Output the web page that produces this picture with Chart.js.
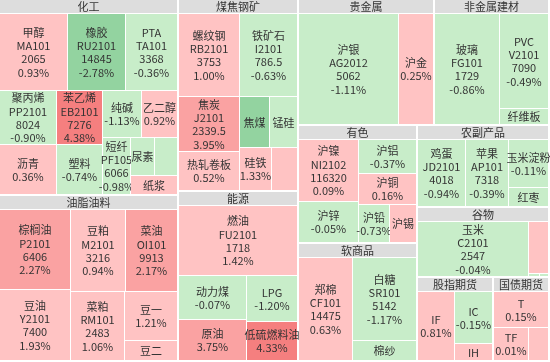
<!DOCTYPE html>
<html lang="zh">
<head>
<meta charset="utf-8">
<title>期货板块涨跌</title>
<script src="https://cdn.jsdelivr.net/npm/chart.js@4.4.1/dist/chart.umd.min.js"></script>
<style>
  html, body { margin: 0; padding: 0; background: #fff; }
  #wrap { width: 550px; height: 362px; }
</style>
</head>
<body>
<div id="wrap"><canvas id="heatmap"></canvas></div>
<script>
// sectors
const groups = ['化工', '煤焦钢矿', '能源', '油脂油料', '贵金属', '非金属建材', '有色', '软商品', '农副产品', '谷物', '股指期货', '国债期货'];

// contracts: sector index, name, code, last price, change %, size
const groupOf = [
  0, 0, 0, 0, 0, 0, 0, 0, 0, 0, 0, 0, 0,
  1, 1, 1, 1, 1, 1, 1, 1,
  2, 2, 2, 2, 2,
  3, 3, 3, 3, 3, 3, 3,
  4, 4,
  5, 5, 5,
  6, 6, 6, 6, 6, 6,
  7, 7, 7,
  8, 8, 8, 8,
  9, 9, 9, 9,
  10, 10, 10,
  11, 11, 11
];
const names = [
  '甲醇', '橡胶', 'PTA', '聚丙烯', '沥青', '苯乙烯', '塑料', '纯碱', '乙二醇', '短纤', '尿素', '20号胶', '纸浆',
  '螺纹钢', '铁矿石', '焦炭', '热轧卷板', '焦煤', '锰硅', '硅铁', '不锈钢',
  '燃油', '动力煤', '原油', 'LPG', '低硫燃料油',
  '棕榈油', '豆油', '豆粕', '菜油', '菜粕', '豆一', '豆二',
  '沪银', '沪金',
  '玻璃', 'PVC', '纤维板',
  '沪镍', '沪锌', '沪铝', '沪铜', '沪铅', '沪锡',
  '郑棉', '白糖', '棉纱',
  '鸡蛋', '苹果', '玉米淀粉', '红枣',
  '玉米', '粳米', '强麦', '早籼稻',
  'IF', 'IC', 'IH',
  'T', 'TF', 'TS'
];
const codes = [
  'MA101', 'RU2101', 'TA101', 'PP2101', null, 'EB2101', null, null, null, 'PF105', null, null, null,
  'RB2101', 'I2101', 'J2101', null, null, null, null, null,
  'FU2101', null, null, null, null,
  'P2101', 'Y2101', 'M2101', 'OI101', 'RM101', null, null,
  'AG2012', null,
  'FG101', 'V2101', null,
  'NI2102', null, null, null, null, null,
  'CF101', 'SR101', null,
  'JD2101', 'AP101', null, null,
  'C2101', null, null, null,
  null, null, null,
  null, null, null
];
const prices = [
  2065, 14845, 3368, 8024, null, 7276, null, null, null, 6066, null, null, null,
  3753, 786.5, 2339.5, null, null, null, null, null,
  1718, null, null, null, null,
  6406, 7400, 3216, 9913, 2483, null, null,
  5062, null,
  1729, 7090, null,
  116320, null, null, null, null, null,
  14475, 5142, null,
  4018, 7318, null, null,
  2547, null, null, null,
  null, null, null,
  null, null, null
];
const changes = [
  0.93, -2.78, -0.36, -0.90, 0.36, 4.38, -0.74, -1.13, 0.92, -0.98, -0.35, -1.05, 0.45,
  1.00, -0.63, 3.95, 0.52, -2.36, -0.58, 1.33, 0.38,
  1.42, -0.07, 3.75, -1.20, 4.33,
  2.27, 1.93, 0.94, 2.17, 1.06, 1.21, 0.70,
  -1.11, 0.25,
  -0.86, -0.49, -0.20,
  0.09, -0.05, -0.37, 0.16, -0.73, 0.40,
  0.63, -1.17, -0.85,
  -0.94, -0.39, -0.11, -0.30,
  -0.04, 0.20, -0.15, -0.10,
  0.81, -0.15, 0.50,
  0.15, 0.01, 0.02
];
const weights = [
  5673, 4874, 4412, 3317, 3074, 2701, 2503, 2026, 1832, 1778, 988, 966, 942,
  5540, 5265, 3683, 2621, 1689, 1546, 1535, 1221,
  9245, 3263, 3038, 2569, 2226,
  6325, 5544, 4940, 4746, 4107, 2894, 1158,
  12663, 4473,
  8253, 5346, 891,
  4272, 2848, 2295, 2100, 1400, 1185,
  6431, 6147, 1464,
  4000, 3548, 2390, 951,
  7804, 1347, 50, 39,
  3150, 2418, 778,
  2456, 1427, 793
];

const FONT = '11px "Noto Sans CJK SC", sans-serif';
const HEADER = 13;

function cellColor(p) {
  if (p >= 4) return '#f57f7f';
  if (p >= 2) return '#faa2a2';
  if (p >= 0) return '#ffc3c3';
  if (p <= -4) return '#5fbf75';
  if (p <= -2) return '#93d3a0';
  return '#c8edc9';
}

const fmtPct = p => p.toFixed(2) + '%';

function worst(row, side) {
  const s = row.reduce((t, d) => t + d.a, 0);
  const max = Math.max(...row.map(d => d.a));
  const min = Math.min(...row.map(d => d.a));
  return Math.max(side * side * max / (s * s), (s * s) / (side * side * min));
}

// squarified treemap in plain units
function squarify(items, x, y, w, h) {
  const list = items.filter(d => d.v > 0).sort((a, b) => b.v - a.v);
  const total = list.reduce((s, d) => s + d.v, 0);
  const k = (w * h) / total;
  let rest = list.map(d => ({ id: d.id, a: d.v * k }));
  const out = [];
  while (rest.length) {
    const side = Math.min(w, h);
    let n = 1, best = worst(rest.slice(0, 1), side);
    while (n < rest.length) {
      const next = worst(rest.slice(0, n + 1), side);
      if (next > best) break;
      best = next;
      n++;
    }
    const row = rest.slice(0, n);
    const sum = row.reduce((s, d) => s + d.a, 0);
    if (w >= h) {
      const cw = sum / h;
      let cy = y;
      row.forEach(d => { const ch = d.a / cw; out.push({ id: d.id, x, y: cy, w: cw, h: ch }); cy += ch; });
      x += cw; w -= cw;
    } else {
      const rh = sum / w;
      let cx = x;
      row.forEach(d => { const cw = d.a / rh; out.push({ id: d.id, x: cx, y, w: cw, h: rh }); cx += cw; });
      y += rh; h -= rh;
    }
    rest = rest.slice(n);
  }
  return out;
}

function labelLines(ctx, k, w, h) {
  if (h >= 53 && codes[k] && w >= 26) return [names[k], codes[k], String(prices[k]), fmtPct(changes[k])];
  if (h >= 27 && w >= 29.5) return [names[k], fmtPct(changes[k])];
  if (h >= 13 && w >= 21 && ctx.measureText(names[k]).width <= w + 1) return [names[k]];
  return [];
}

const treemapPlugin = {
  id: 'treemap',
  beforeDatasetsDraw(chart) {
    const { ctx, chartArea: area, scales: { x, y } } = chart;
    const W = area.right - area.left, H = area.bottom - area.top;
    const px = u => Math.round(x.getPixelForValue(u / W));
    const py = v => Math.round(y.getPixelForValue(v / H));

    const sectors = groups.map((_, g) => ({
      id: g,
      v: weights.reduce((s, val, k) => s + (groupOf[k] === g ? val : 0), 0)
    }));
    const tiles = squarify(sectors, 0, 0, W, H);

    ctx.save();
    ctx.font = FONT;
    ctx.textAlign = 'center';
    ctx.textBaseline = 'middle';

    tiles.forEach(t => {
      const gl = px(t.x), gr = px(t.x + t.w) - 2;
      const gt = py(t.y), gb = py(t.y + t.h) - 2;

      // sector header
      ctx.fillStyle = '#dddddd';
      ctx.fillRect(gl, gt, gr - gl, HEADER);
      ctx.fillStyle = '#333';
      ctx.fillText(groups[t.id], (gl + gr) / 2, gt + HEADER / 2 + 0.5);

      // contracts inside the sector
      const members = weights.map((v, k) => ({ id: k, v })).filter(d => groupOf[d.id] === t.id);
      const innerTop = gt + HEADER + 1;
      const cells = squarify(members, gl, innerTop, gr - gl + 1, gb - innerTop + 1);
      cells.forEach(c => {
        const l = Math.round(c.x), r = Math.round(c.x + c.w) - 1;
        const tp = Math.round(c.y), b = Math.round(c.y + c.h) - 1;
        if (r <= l || b <= tp) return;
        ctx.fillStyle = cellColor(changes[c.id]);
        ctx.fillRect(l, tp, r - l, b - tp);

        const lines = labelLines(ctx, c.id, r - l, b - tp);
        const lh = 13.3;
        const cx = (l + r) / 2, cy = (tp + b) / 2;
        ctx.fillStyle = '#333';
        lines.forEach((txt, i) => {
          ctx.fillText(txt, cx, cy + (i - (lines.length - 1) / 2) * lh + 0.5);
        });
      });
    });
    ctx.restore();
  }
};

new Chart(document.getElementById('heatmap'), {
  type: 'scatter',
  data: { datasets: [{ data: [], pointRadius: 0 }] },
  options: {
    responsive: true,
    maintainAspectRatio: false,
    animation: false,
    layout: { padding: 0 },
    plugins: { legend: { display: false }, tooltip: { enabled: false } },
    scales: {
      x: { type: 'linear', min: 0, max: 1, display: false },
      y: { type: 'linear', min: 0, max: 1, reverse: true, display: false }
    }
  },
  plugins: [treemapPlugin]
});
</script>
</body>
</html>
